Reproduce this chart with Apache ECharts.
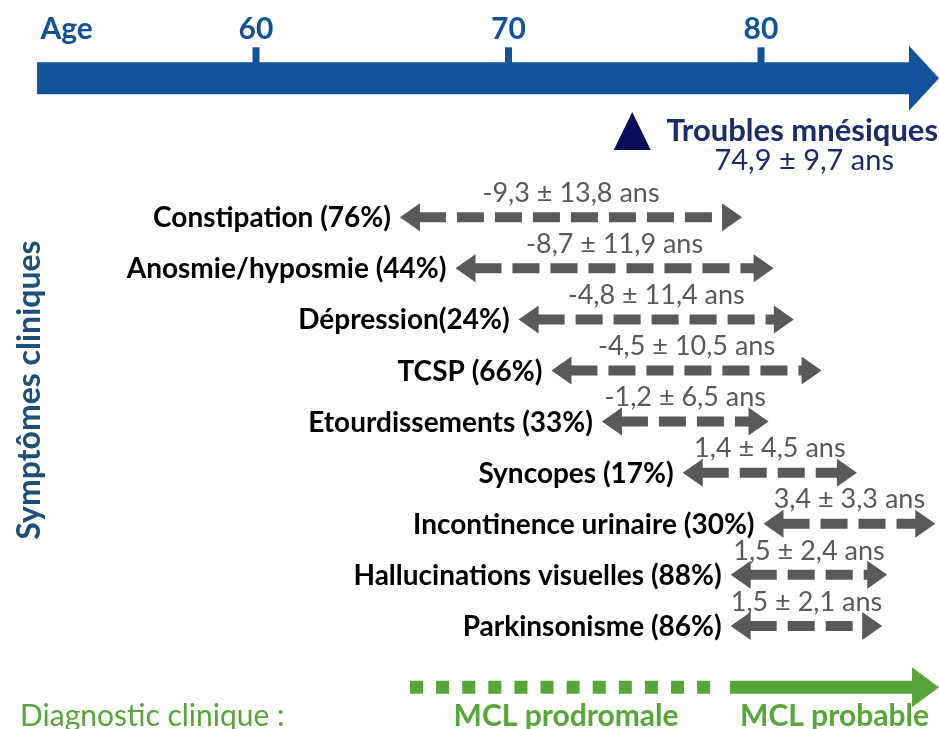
<!DOCTYPE html>
<html>
<head>
<meta charset="utf-8">
<title>Symptômes cliniques et âge</title>
<script src="https://cdn.jsdelivr.net/npm/echarts@6/dist/echarts.min.js"></script>
<style>
  body { margin: 0; background: #fff; }
  #main { width: 939px; height: 729px; }
</style>
</head>
<body>
<div id="main"></div>
<script>
// les données (âges en années)
var ageTicks = [60, 70, 80];
var symptoms = ['Constipation (76%)', 'Anosmie/hyposmie (44%)', 'Dépression(24%)', 'TCSP (66%)',
  'Etourdissements (33%)', 'Syncopes (17%)', 'Incontinence urinaire (30%)',
  'Hallucinations visuelles (88%)', 'Parkinsonisme (86%)'];
var deltas = ['-9,3 ± 13,8 ans', '-8,7 ± 11,9 ans', '-4,8 ± 11,4 ans', '-4,5 ± 10,5 ans',
  '-1,2 ± 6,5 ans', '1,4 ± 4,5 ans', '3,4 ± 3,3 ans', '1,5 ± 2,4 ans', '1,5 ± 2,1 ans'];
// début et fin de chaque flèche
var arrowStart = [65.7, 67.9, 70.4, 71.7, 73.7, 76.9, 80.1, 78.8, 78.8];
var arrowEnd = [79.25, 80.5, 81.3, 82.4, 80.3, 83.8, 86.9, 85.0, 84.8];
// troubles mnésiques
var memoryAge = 74.9;
var memoryText = ['Troubles mnésiques', '74,9 ± 9,7 ans'];
// axe des âges (flèche bleue)
var ageAxisSpan = [51.33, 87.05];
// diagnostic clinique
var diagStages = ['MCL prodromale', 'MCL probable'];
var diagStart = [66.1, 78.77];
var diagEnd = [78.46, 87.05];

// lignes (position verticale dans la grille)
var ROW_AXIS = -1.72, ROW_MEMORY = -0.69, ROW_DIAG = 10.2;

var FONT = 'Lato';
var BLUE = '#11529a', NAVY = '#1b2c6b', GREY = '#595959', GREEN = '#58a53a';

var chart = echarts.init(document.getElementById('main'));

// flèches grises à double pointe
function renderSymptom(params, api) {
  var i = params.dataIndex;
  var a = api.coord([api.value(0), api.value(2)]);
  var b = api.coord([api.value(1), api.value(2)]);
  var y = a[1], hw = 20, hh = 14;
  return {
    type: 'group',
    children: [
      { type: 'polygon', shape: { points: [[a[0], y], [a[0] + hw, y - hh], [a[0] + hw, y + hh]] }, style: { fill: GREY } },
      { type: 'polygon', shape: { points: [[b[0], y], [b[0] - hw, y - hh], [b[0] - hw, y + hh]] }, style: { fill: GREY } },
      { type: 'line', shape: { x1: a[0] + hw - 1, y1: y, x2: b[0] - hw + 1, y2: y },
        style: { stroke: GREY, lineWidth: 10, lineDash: [27, 11] } },
      { type: 'text', x: a[0] - 9, y: y + 1,
        style: { text: symptoms[i], align: 'right', verticalAlign: 'middle', fill: '#000',
          font: 'bold 28px ' + FONT } },
      { type: 'text', x: (a[0] + b[0]) / 2, y: y - 24,
        style: { text: deltas[i], align: 'center', verticalAlign: 'middle', fill: GREY,
          font: '27px ' + FONT } }
    ]
  };
}

// grande flèche bleue de l'axe des âges, avec ses graduations
function renderAgeAxis(params, api) {
  var a = api.coord([api.value(0), api.value(2)]);
  var b = api.coord([api.value(1), api.value(2)]);
  var y = a[1], headW = 30, headH = 32.5, half = 16;
  var kids = [
    { type: 'rect', shape: { x: a[0], y: y - half, width: b[0] - headW - a[0] + 1, height: half * 2 }, style: { fill: BLUE } },
    { type: 'polygon', shape: { points: [[b[0], y], [b[0] - headW, y - headH], [b[0] - headW, y + headH]] }, style: { fill: BLUE } }
  ];
  ageTicks.forEach(function (t) {
    var px = api.coord([t, api.value(2)])[0];
    kids.push({ type: 'rect', shape: { x: px - 3.5, y: y - half - 15, width: 7, height: 16 }, style: { fill: BLUE } });
  });
  return { type: 'group', children: kids };
}

// triangle des troubles mnésiques
function renderMemory(params, api) {
  var p = api.coord([api.value(0), api.value(1)]);
  var x = p[0], y = p[1];
  return {
    type: 'group',
    children: [
      { type: 'polygon', shape: { points: [[x, y - 19], [x - 18.5, y + 19], [x + 18.5, y + 19]] }, style: { fill: '#0c0c5c' } },
      { type: 'text', x: x + 170, y: y,
        style: { text: memoryText[0], align: 'center', verticalAlign: 'middle', fill: NAVY, font: 'bold 31px ' + FONT } },
      { type: 'text', x: x + 172, y: y + 30,
        style: { text: memoryText[1], align: 'center', verticalAlign: 'middle', fill: NAVY, font: '29px ' + FONT } }
    ]
  };
}

// flèche verte du diagnostic
function renderDiag(params, api) {
  var i = params.dataIndex;
  var a = api.coord([api.value(0), api.value(2)]);
  var b = api.coord([api.value(1), api.value(2)]);
  var y = a[1];
  var kids = [];
  if (i === 0) {
    kids.push({ type: 'line', shape: { x1: a[0], y1: y, x2: b[0], y2: y },
      style: { stroke: GREEN, lineWidth: 13, lineDash: [13, 13.1] } });
  } else {
    var headW = 27, headH = 20;
    kids.push({ type: 'rect', shape: { x: a[0], y: y - 6.5, width: b[0] - headW - a[0] + 1, height: 13 }, style: { fill: GREEN } });
    kids.push({ type: 'polygon', shape: { points: [[b[0], y], [b[0] - headW, y - headH], [b[0] - headW, y + headH]] }, style: { fill: GREEN } });
  }
  kids.push({ type: 'text', x: (a[0] + b[0]) / 2, y: y + 29,
    style: { text: diagStages[i], align: 'center', verticalAlign: 'middle', fill: GREEN, font: 'bold 30px ' + FONT } });
  return { type: 'group', children: kids };
}

var option = {
  backgroundColor: '#fff',
  animation: false,
  grid: { left: 3.5, right: 1.25, top: 64, bottom: 26.5 },
  xAxis: {
    type: 'value', position: 'top', min: 50, max: 87, offset: 2,
    splitLine: { show: false }, axisLine: { show: false }, axisTick: { show: false },
    axisLabel: { customValues: [52.5].concat(ageTicks), margin: 18,
      formatter: function (v) { return v === 52.5 ? 'Age' : String(v); },
      color: BLUE, fontFamily: FONT, fontWeight: 'bold', fontSize: 30 }
  },
  yAxis: { type: 'value', inverse: true, min: -2, max: 10.5, show: false },
  graphic: [
    { type: 'text', x: 20, y: 716,
      style: { text: 'Diagnostic clinique :', verticalAlign: 'middle', fill: GREEN, font: '30px ' + FONT } },
    { type: 'text', x: 30, y: 390, rotation: Math.PI / 2,
      style: { text: 'Symptômes cliniques', align: 'center', verticalAlign: 'middle', fill: '#1f4e79',
        font: 'bold 32px ' + FONT } }
  ],
  series: [
    { type: 'custom', renderItem: renderAgeAxis, clip: false, silent: true,
      encode: { x: [0, 1], y: 2 }, data: [[ageAxisSpan[0], ageAxisSpan[1], ROW_AXIS]] },
    { type: 'custom', renderItem: renderMemory, clip: false, silent: true,
      encode: { x: 0, y: 1 }, data: [[memoryAge, ROW_MEMORY]] },
    { type: 'custom', renderItem: renderSymptom, clip: false, silent: true,
      encode: { x: [0, 1], y: 2 },
      data: symptoms.map(function (s, i) { return [arrowStart[i], arrowEnd[i], i + 1]; }) },
    { type: 'custom', renderItem: renderDiag, clip: false, silent: true,
      encode: { x: [0, 1], y: 2 },
      data: diagStages.map(function (s, i) { return [diagStart[i], diagEnd[i], ROW_DIAG]; }) }
  ]
};
chart.setOption(option);
</script>
</body>
</html>
